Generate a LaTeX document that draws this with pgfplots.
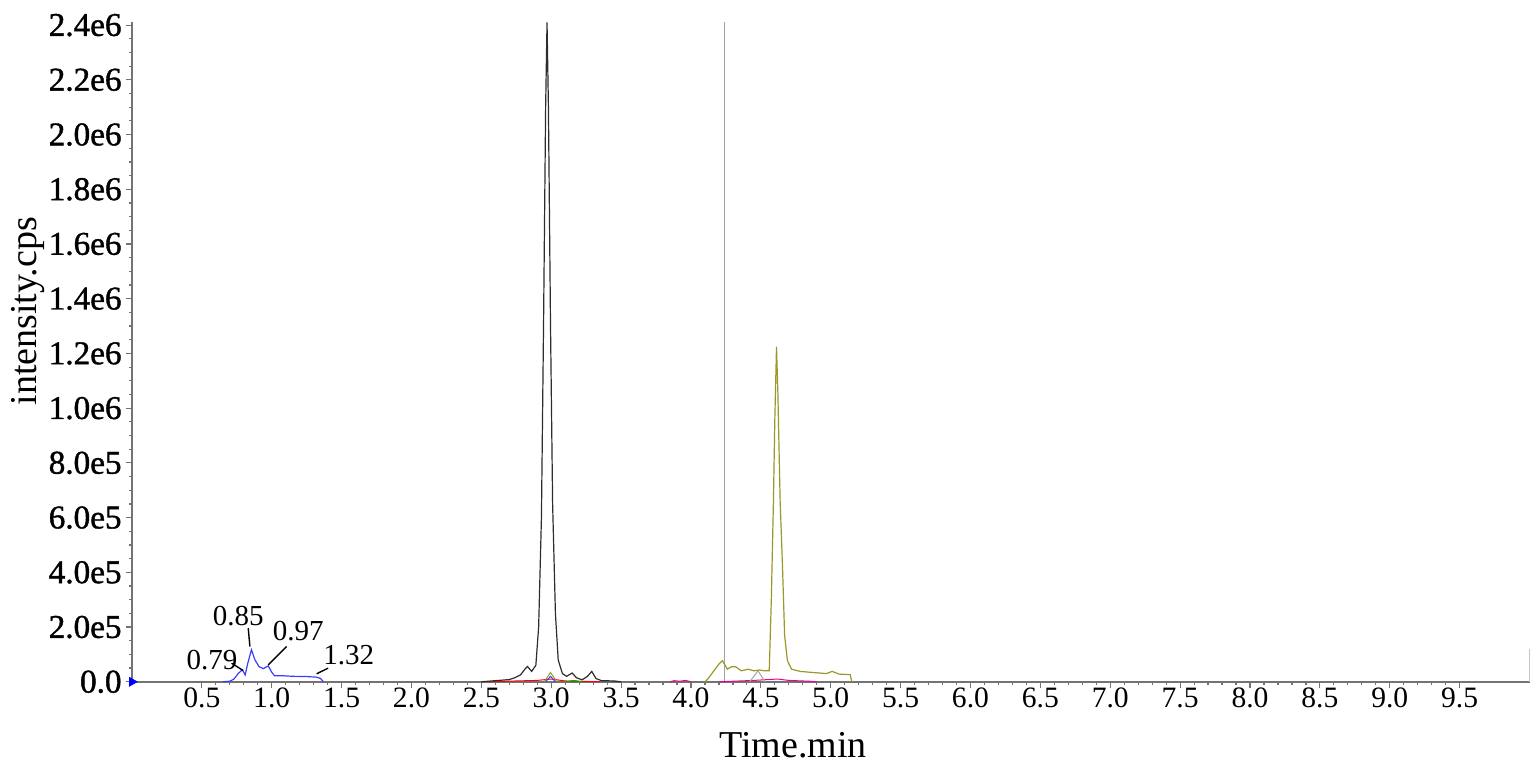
\documentclass[border=0pt]{standalone}
\usepackage{fontspec}
\setmainfont{Liberation Serif}
\newfontfamily\ytickfont[FakeBold=1.2]{Liberation Serif}
\usepackage{pgfplots}
\pgfplotsset{compat=1.18}
\definecolor{axgray}{RGB}{115,115,115}
\definecolor{peakblack}{RGB}{45,45,45}
\definecolor{olive2}{RGB}{155,152,40}
\definecolor{blue2}{RGB}{60,60,255}
\definecolor{vline}{RGB}{160,160,160}
\begin{document}
\begin{tikzpicture}
\begin{axis}[name=ax, scale only axis, width=699pt, height=329.8pt,
  xmin=0, xmax=10, ymin=0, ymax=2.41e6,
  axis x line*=bottom, axis y line*=left,
  axis line style={axgray, line width=1pt, -},
  xtick={0.5,1.0,1.5,2.0,2.5,3.0,3.5,4.0,4.5,5.0,5.5,6.0,6.5,7.0,7.5,8.0,8.5,9.0,9.5},
  xticklabels={0.5,1.0,1.5,2.0,2.5,3.0,3.5,4.0,4.5,5.0,5.5,6.0,6.5,7.0,7.5,8.0,8.5,9.0,9.5},
  ytick={0,200000,400000,600000,800000,1000000,1200000,1400000,1600000,1800000,2000000,2200000,2400000},
  yticklabels={0.0,2.0e5,4.0e5,6.0e5,8.0e5,1.0e6,1.2e6,1.4e6,1.6e6,1.8e6,2.0e6,2.2e6,2.4e6},
  scaled y ticks=false,
  minor x tick num=4, minor y tick num=3,
  tick align=outside, major tick length=3pt, minor tick length=1.5pt,
  tick style={axgray, line width=0.6pt},
  xticklabel style={font=\fontsize{14.8}{16}\selectfont, inner sep=0pt, anchor=north, yshift=0pt},
  yticklabel style={font=\fontsize{16.6}{18}\ytickfont, inner sep=0pt, anchor=east, xshift=-2pt},
  xlabel={Time.min}, ylabel={intensity.cps},
  label style={font=\fontsize{19}{20}\selectfont},
  xlabel style={at={(axis description cs:0.473,-0.1152)}, anchor=base},
  ylabel style={at={(axis description cs:-0.0685,0.562)}, anchor=base},
  clip=false,
]
% vertical marker line
\draw[vline, line width=0.6pt] (axis cs:4.24,0) -- (axis cs:4.24,2.41e6);
% right end small line
\draw[vline!60, line width=0.6pt] (axis cs:10,0) -- (axis cs:10,1.2e5);
% minor traces near 3.0
\addplot[red, line width=0.5pt] coordinates {(2.55,0) (2.75,3e3) (2.9,5e3) (3.0,1e4) (3.1,3e3) (3.35,0)};
\addplot[green!70!black, line width=0.5pt] coordinates {(3.10,0) (3.16,5e3) (3.22,0)};
\addplot[olive2, line width=0.5pt] coordinates {(2.95,0) (2.995,3.4e4) (3.04,0)};
\addplot[blue2, line width=0.5pt] coordinates {(2.96,0) (2.995,2e4) (3.03,0)};
% magenta traces
\addplot[magenta, line width=0.5pt] coordinates {(3.85,0) (3.88,4e3) (3.92,2e3) (3.96,5e3) (4.0,0)};
\addplot[magenta, line width=0.5pt] coordinates {(4.20,0) (4.35,3e3) (4.45,5e3) (4.55,8e3) (4.62,1e4) (4.7,5e3) (4.85,2e3) (4.9,0)};
\addplot[gray!70, line width=0.5pt] coordinates {(4.42,0) (4.48,4e4) (4.53,0)};
% main black peak
\addplot[peakblack, line width=0.6pt] coordinates {
(2.50,0) (2.55,2e3) (2.60,4e3) (2.65,6e3) (2.70,8e3) (2.74,1.5e4) (2.78,2.5e4)
(2.81,4.5e4) (2.83,5.6e4) (2.86,3.8e4) (2.89,6e4) (2.91,2.0e5) (2.93,6e5)
(2.945,1.3e6) (2.96,2.1e6) (2.97,2.41e6) (2.98,2.1e6) (2.995,1.3e6) (3.01,6.5e5)
(3.03,2.5e5) (3.05,8e4) (3.08,3e4) (3.11,2e4) (3.15,3.2e4) (3.18,1.5e4)
(3.22,7e3) (3.26,2e4) (3.29,3.8e4) (3.32,1.2e4) (3.36,4e3) (3.45,3e3) (3.50,0)};
% olive peak
\addplot[olive2, line width=0.6pt] coordinates {
(4.10,0) (4.12,1e4) (4.155,3.4e4) (4.20,6.5e4) (4.225,7.7e4) (4.26,4.6e4) (4.29,5.5e4)
(4.32,5.5e4) (4.36,4e4) (4.41,4.6e4) (4.45,4e4) (4.49,4.3e4) (4.53,4e4) (4.56,4e4)
(4.575,3e5) (4.59,6.6e5) (4.60,9.6e5) (4.612,1.225e6) (4.622,1.05e6) (4.638,6.6e5)
(4.655,4.2e5) (4.67,1.7e5) (4.69,7.7e4) (4.72,4.6e4) (4.78,3.8e4) (4.87,3.4e4)
(4.97,3e4) (5.01,3.8e4) (5.06,2.8e4) (5.14,2.6e4) (5.15,0)};
% blue cluster
\addplot[blue2, line width=0.6pt] coordinates {
(0.65,0) (0.70,2e3) (0.73,1e4) (0.76,3e4) (0.79,4.4e4) (0.81,2.5e4) (0.83,7e4)
(0.855,1.17e5) (0.88,8e4) (0.91,5.5e4) (0.94,4.8e4) (0.975,5.8e4) (1.0,3.5e4)
(1.02,2.2e4) (1.08,2.2e4) (1.15,2.0e4) (1.25,1.9e4) (1.32,1.7e4) (1.35,1.2e4) (1.37,0)};
\addplot[blue, only marks, mark=triangle*, mark size=2.5pt, mark options={rotate=-90}] coordinates {(0,0)};
% annotations
\begin{scope}[font=\fontsize{14.5}{16}\selectfont]
\node at (axis cs:0.572,8.0e4) {0.79};
\draw[black, line width=0.7pt] (axis cs:0.713,6.8e4) -- (axis cs:0.796,4.1e4);
\node at (axis cs:0.760,2.39e5) {0.85};
\draw[black, line width=0.7pt] (axis cs:0.832,1.96e5) -- (axis cs:0.844,1.29e5);
\node at (axis cs:1.19,1.87e5) {0.97};
\draw[black, line width=0.7pt] (axis cs:1.107,1.29e5) -- (axis cs:0.975,6.2e4);
\node at (axis cs:1.552,9.6e4) {1.32};
\draw[black, line width=0.7pt] (axis cs:1.404,5.0e4) -- (axis cs:1.321,2.9e4);
\end{scope}
\end{axis}
\pgfresetboundingbox
\path ([shift={(-66pt,-44.5pt)}]ax.south west) rectangle ([shift={(2.75pt,11.2pt)}]ax.north east);
\end{tikzpicture}
\end{document}
